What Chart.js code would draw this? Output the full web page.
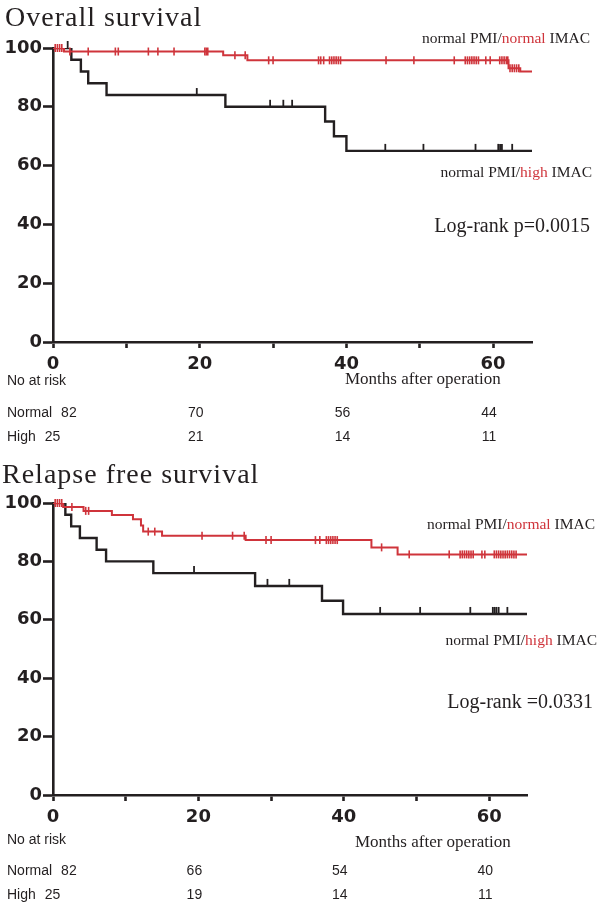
<!DOCTYPE html>
<html>
<head>
<meta charset="utf-8">
<script src="https://cdn.jsdelivr.net/npm/chart.js@4"></script>
<style>
  html, body { margin: 0; padding: 0; background: #fff; }
  canvas { display: block; }
</style>
</head>
<body>
<canvas id="os" width="600" height="451"></canvas>
<canvas id="rfs" width="600" height="452"></canvas>
<script>
// Overall survival – normal IMAC (red)
const osTimesNormal = [0, 1.5, 23.2, 26.5, 62.1, 63.7, 65.3];
const osSurvNormal = [100, 98.8, 97.5, 95.8, 93.1, 92.0, 92.0];
const osCensNormal = [0.3, 0.6, 0.9, 1.2, 2.3, 4.8, 8.5, 8.9, 13.0, 14.3, 16.5, 20.7, 20.9, 21.1,
  24.8, 26.2, 29.4, 30.0, 36.2, 36.5, 36.9, 37.7, 38.0, 38.3, 38.6, 38.9, 39.2, 45.4, 49.2, 54.7,
  56.2, 56.5, 56.8, 57.1, 57.4, 57.7, 58.0, 59.0, 59.6, 60.9, 61.2, 61.5, 61.8, 62.0,
  62.3, 62.6, 62.9, 63.2, 63.5];
// Overall survival – high IMAC (black)
const osTimesHigh = [0, 2.5, 3.8, 4.8, 7.3, 23.5, 37.1, 38.3, 40.0, 65.3];
const osSurvHigh = [100, 96, 92, 88, 84, 80, 75, 70, 65, 65];
const osCensHigh = [2.0, 19.6, 29.6, 31.4, 32.6, 45.3, 50.5, 57.6, 60.7, 60.95, 61.2, 62.6];

// Relapse free survival – normal IMAC (red)
const rfsTimesNormal = [0, 1.4, 4.2, 8.1, 11.0, 12.1, 12.4, 15.0, 26.5, 43.8, 47.4, 65.2];
const rfsSurvNormal = [100, 98.6, 97.3, 95.9, 94.4, 92.3, 90.2, 88.8, 87.3, 84.8, 82.4, 82.4];
const rfsCensNormal = [0.3, 0.6, 0.9, 1.2, 2.6, 4.5, 4.9, 13.1, 14.0, 20.5, 24.7, 26.3, 29.3, 30.0,
  36.1, 36.7, 37.6, 37.9, 38.2, 38.5, 38.8, 39.1, 45.2, 49.0, 54.5, 56.0, 56.3, 56.6, 56.9, 57.2,
  57.5, 57.8, 59.0, 59.4, 60.7, 61.0, 61.3, 61.6, 61.9, 62.2, 62.5, 62.8, 63.1, 63.4, 63.7];
// Relapse free survival – high IMAC (black)
const rfsTimesHigh = [0, 1.7, 2.5, 3.7, 6.0, 7.3, 13.8, 27.8, 37.0, 39.9, 65.2];
const rfsSurvHigh = [100, 96, 92, 88, 84, 80, 76, 71.6, 66.5, 62, 62];
const rfsCensHigh = [19.4, 29.5, 32.5, 45.0, 50.5, 57.4, 60.5, 60.75, 61.0, 61.3, 62.5];

// axis ticks (months); only multiples of 20 are labelled
const xTicks = [0, 10, 20, 30, 40, 50, 60];
const yTicks = [0, 20, 40, 60, 80, 100];

// numbers at risk
const riskTicks = [0, 20, 40, 60];
const osRiskNormal = [82, 70, 56, 44];
const osRiskHigh = [25, 21, 14, 11];
const rfsRiskNormal = [82, 66, 54, 40];
const rfsRiskHigh = [25, 19, 14, 11];

const RED = '#cf343b';
const INK = '#231f20';
const SERIF = '"Liberation Serif", "DejaVu Serif", serif';
const SANS = '"Liberation Sans", Arial, sans-serif';

// survival value at time t for a step curve
function survAt(times, surv, t) {
  let s = surv[0];
  for (let i = 0; i < times.length; i++) {
    if (times[i] <= t) s = surv[i];
  }
  return s;
}

function curve(times, surv) {
  return times.map((t, i) => ({ x: t, y: surv[i] }));
}

function censors(cens, times, surv) {
  return cens.map(t => ({ x: t, y: survAt(times, surv, t) }));
}

function drawParts(ctx, parts, right, y, font) {
  ctx.font = font;
  let total = 0;
  parts.forEach(p => { total += ctx.measureText(p[0]).width; });
  let x = right - total;
  ctx.textAlign = 'left';
  parts.forEach(p => {
    ctx.fillStyle = p[1];
    ctx.fillText(p[0], x, y);
    x += ctx.measureText(p[0]).width;
  });
}

function makePanel(id, opt) {
  const textPlugin = {
    id: 'panelText',
    afterDraw(chart) {
      const ctx = chart.ctx;
      const xs = chart.scales.x;
      ctx.save();
      ctx.textBaseline = 'alphabetic';

      // title
      ctx.font = '28px ' + SERIF;
      ctx.letterSpacing = '1px';
      ctx.fillStyle = INK;
      ctx.textAlign = 'left';
      ctx.fillText(opt.title, opt.titleX, opt.titleY);
      ctx.letterSpacing = '0px';

      // group labels
      drawParts(ctx, [['normal PMI/', INK], ['normal', RED], [' IMAC', INK]],
        opt.lab1[0], opt.lab1[1], '15.5px ' + SERIF);
      drawParts(ctx, [['normal PMI/', INK], ['high', RED], [' IMAC', INK]],
        opt.lab2[0], opt.lab2[1], '15.5px ' + SERIF);

      // log-rank
      ctx.font = '20px ' + SERIF;
      ctx.fillStyle = INK;
      ctx.textAlign = 'right';
      ctx.fillText(opt.logrank, opt.lr[0], opt.lr[1]);

      // x axis title
      ctx.font = '17px ' + SERIF;
      ctx.textAlign = 'left';
      ctx.fillText('Months after operation', opt.months[0], opt.months[1]);

      // number at risk table
      ctx.font = '14px ' + SANS;
      ctx.fillText('No at risk', 7, opt.riskY[0]);
      const rows = [['Normal', opt.riskNormal, opt.riskY[1]], ['High', opt.riskHigh, opt.riskY[2]]];
      rows.forEach(r => {
        ctx.textAlign = 'left';
        ctx.fillText(r[0], 7, r[2]);
        const w = ctx.measureText(r[0]).width;
        ctx.fillText(String(r[1][0]), 7 + w + 9, r[2]);
        ctx.textAlign = 'center';
        for (let i = 1; i < riskTicks.length; i++) {
          ctx.fillText(String(r[1][i]), xs.getPixelForValue(riskTicks[i]) - 4, r[2]);
        }
      });
      ctx.restore();
    }
  };

  return new Chart(document.getElementById(id), {
    type: 'line',
    data: {
      datasets: [
        {
          data: curve(opt.tn, opt.sn), stepped: 'before', borderColor: RED,
          borderWidth: 2, pointRadius: 0, fill: false
        },
        {
          data: censors(opt.cn, opt.tn, opt.sn), showLine: false, borderColor: RED,
          pointStyle: 'line', rotation: 90, pointRadius: 4, pointBorderWidth: 1.6, clip: false
        },
        {
          data: curve(opt.th, opt.sh), stepped: 'before', borderColor: INK,
          borderWidth: 2.4, pointRadius: 0, fill: false
        },
        {
          data: censors(opt.ch, opt.th, opt.sh), showLine: false, borderColor: INK,
          pointStyle: 'dash', rotation: 270, pointRadius: 7, pointBorderWidth: 1.8, clip: false
        }
      ]
    },
    options: {
      responsive: false,
      animation: false,
      devicePixelRatio: 1,
      layout: { padding: { top: opt.top, right: opt.right, left: 0, bottom: 0 } },
      plugins: { legend: { display: false }, tooltip: { enabled: false } },
      scales: {
        x: {
          type: 'linear', min: 0, max: opt.xMax,
          afterFit(s) { s.height = opt.xAxisH; },
          afterBuildTicks(s) { s.ticks = xTicks.map(v => ({ value: v })); },
          border: { color: INK, width: 2.6 },
          grid: { drawOnChartArea: false, tickLength: 6, tickWidth: 2.6, tickColor: INK },
          ticks: {
            autoSkip: false, maxRotation: 0, padding: 6, color: INK,
            font: { family: 'DejaVu Sans', size: 18, weight: 'bold' },
            callback: v => (v % 20 === 0 ? v : '')
          }
        },
        y: {
          min: 0, max: 100,
          afterFit(s) { s.width = 53; },
          afterBuildTicks(s) { s.ticks = yTicks.map(v => ({ value: v })); },
          border: { color: INK, width: 2.6 },
          grid: { drawOnChartArea: false, tickLength: 10, tickWidth: 2.6, tickColor: INK },
          ticks: {
            padding: 1, color: INK,
            font: { family: 'DejaVu Sans', size: 18, weight: 'bold' }
          }
        }
      }
    },
    plugins: [textPlugin]
  });
}

makePanel('os', {
  tn: osTimesNormal, sn: osSurvNormal, cn: osCensNormal,
  th: osTimesHigh, sh: osSurvHigh, ch: osCensHigh,
  riskNormal: osRiskNormal, riskHigh: osRiskHigh,
  xMax: 65.3, top: 48, right: 68, xAxisH: 109,
  title: 'Overall survival', titleX: 5, titleY: 26,
  lab1: [590, 43], lab2: [592, 177],
  logrank: 'Log-rank p=0.0015', lr: [590, 232],
  months: [345, 384], riskY: [385, 417, 441]
});

makePanel('rfs', {
  tn: rfsTimesNormal, sn: rfsSurvNormal, cn: rfsCensNormal,
  th: rfsTimesHigh, sh: rfsSurvHigh, ch: rfsCensHigh,
  riskNormal: rfsRiskNormal, riskHigh: rfsRiskHigh,
  xMax: 65.2, top: 52, right: 73, xAxisH: 108,
  title: 'Relapse free survival', titleX: 2, titleY: 32,
  lab1: [595, 78], lab2: [597, 194],
  logrank: 'Log-rank =0.0331', lr: [593, 257],
  months: [355, 396], riskY: [393, 424, 448]
});
</script>
</body>
</html>
